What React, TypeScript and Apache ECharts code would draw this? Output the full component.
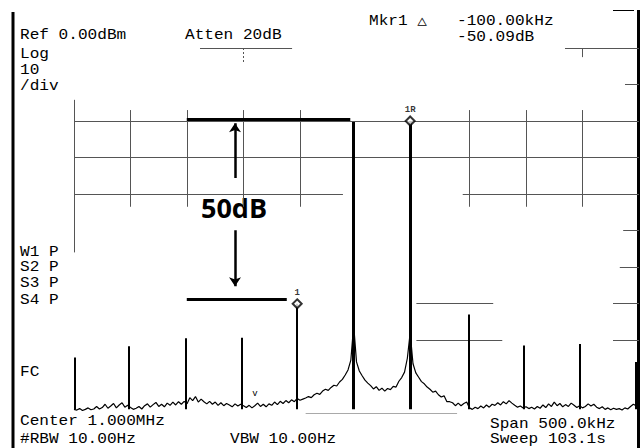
import React, { useEffect, useRef } from "react";
import * as echarts from "echarts";

// Spectrum trace (dBm), one value every 2.5 kHz from 750 kHz to 1250 kHz
const traceStartKHz = 750;
const traceStepKHz = 2.5;
const traceLevelDb = [
  -99.0, -99.2, -98.8, -99.3, -99.0, -98.6, -99.1, -98.9, -98.2, -98.9,
  -98.5, -97.6, -98.7, -98.1, -97.4, -98.6, -97.8, -97.2, -98.4, -97.9,
  -98.5, -99.0, -98.7, -98.2, -98.9, -98.0, -97.5, -98.4, -97.7, -97.1,
  -98.2, -97.6, -98.3, -97.3, -97.9, -97.0, -97.8, -96.9, -97.6, -96.8,
  -97.5, -95.8, -96.6, -95.5, -97.0, -96.2, -96.9, -97.5, -96.8, -97.6,
  -97.0, -97.9, -97.2, -98.0, -97.4, -97.8, -98.3, -97.5, -98.1, -97.6,
  -98.0, -98.5, -97.9, -98.6, -98.0, -97.3, -98.2, -97.6, -98.3, -97.5,
  -97.9, -97.0, -97.7, -96.8, -97.4, -96.6, -97.2, -96.4, -96.9, -96.0,
  -96.5, -96.2, -95.9, -95.5, -95.8, -95.0, -94.6, -94.9, -94.0, -93.5,
  -93.8, -93.0, -92.4, -92.6, -91.5, -90.8, -89.6, -88.2, -85.5, -76.0,
  -86.0, -88.5, -89.8, -91.0, -91.8, -92.5, -93.4, -92.8, -93.8, -93.2,
  -94.0, -93.3, -93.6, -92.7, -92.9, -91.3, -90.3, -88.8, -85.0, -78.0,
  -86.5, -89.0, -90.2, -91.4, -92.0, -92.9, -93.5, -94.3, -94.0, -95.0,
  -95.6, -95.3, -96.9, -96.9, -97.2, -98.0, -97.3, -98.0, -97.4, -97.0,
  -98.6, -99.0, -98.4, -98.8, -98.1, -98.6, -97.8, -98.4, -97.6, -97.9,
  -97.2, -97.8, -96.9, -97.5, -96.6, -97.3, -97.9, -98.4, -98.1, -98.6,
  -98.3, -98.8, -98.4, -98.9, -98.2, -98.7, -97.8, -98.5, -97.5, -98.2,
  -97.0, -98.0, -97.4, -98.3, -97.7, -98.2, -97.3, -97.9, -98.5, -98.0,
  -98.6, -98.2, -97.5, -98.1, -97.6, -98.4, -98.8, -98.3, -99.0, -98.6,
  -99.1, -98.7, -99.0, -98.8, -99.2, -98.6, -98.9, -98.2, -97.6, -98.0, -98.5,
];

// Discrete spectral lines (kHz, dBm)
const spurFreqKHz = [750.5, 798.5, 848.5, 898.5, 947.5, 997.5, 1047.5, 1099, 1148, 1198, 1247.5];
const spurLevelDb = [-84.8, -81.7, -79.5, -79.4, -70.09, -20.3, -20.0, -73.0, -81.5, -81.1, -86.0];
const spurBaseDb = -99;

// Markers
const markerNames = ["1R", "1"];
const markerFreqKHz = [1047.5, 947.5];
const markerLevelDb = [-20.0, -70.09];

// Visible pieces of the graticule: [f1, dB1, f2, dB2]
const graticule = [
  [750, -20, 1250, -20],
  [750, -30, 1250, -30],
  [750, -40, 988, -40],
  [1094, -40, 1250, -40],
  [750, -14.2, 750, -56],
  [800, -17, 800, -43.5],
  [850, -17, 850, -43.5],
  [900, -17, 900, -43.5],
  [950, -17, 950, -43.5],
  [1100, -17, 1100, -43.5],
  [1150, -17, 1150, -43.5],
  [1200, -17, 1200, -43.5],
  [861.5, 0, 943, 0],
  [1184.5, 0, 1250, 0],
  [1199.5, 0, 1199.5, -2.5],
  [1237.6, -10, 1250, -10],
  [1236, -50, 1250, -50],
  [1233, -60, 1250, -60],
  [1053, -70, 1121, -70],
  [1227, -70, 1250, -70],
  [1053, -80, 1129, -80],
  [1227, -80, 1250, -80],
  [955, -100, 1089, -100],
];
const graticuleDashed = [[900, 0, 900, -4]];

// 50 dB annotation
const annotBars = [
  [849.8, -19.4, 994.5, -19.4],
  [849.8, -68.8, 938.3, -68.8],
];
const annotArrows = [
  [892.5, -35.6, 892.5, -20.6],
  [892.5, -49.9, 892.5, -65.3],
];

const screenTexts = [
  { text: "Ref 0.00dBm", x: 20, y: 35 },
  { text: "Atten 20dB", x: 185, y: 35 },
  { text: "Log", x: 20, y: 54 },
  { text: "10", x: 20, y: 70 },
  { text: "/div", x: 20, y: 86 },
  { text: "Mkr1 \u25B3", x: 369, y: 21 },
  { text: "-100.00kHz", x: 457, y: 21 },
  { text: "-50.09dB", x: 457, y: 37 },
  { text: "W1 P", x: 20, y: 252 },
  { text: "S2 P", x: 20, y: 267 },
  { text: "S3 P", x: 20, y: 283 },
  { text: "S4 P", x: 20, y: 300 },
  { text: "FC", x: 20, y: 372 },
  { text: "Center 1.000MHz", x: 20, y: 421 },
  { text: "#RBW 10.00Hz", x: 20, y: 439 },
  { text: "VBW 10.00Hz", x: 230, y: 439 },
  { text: "Span 500.0kHz", x: 490, y: 424 },
  { text: "Sweep 103.1s", x: 490, y: 439 },
];

const seg = (s: number[]) => ({ coords: [[s[0], s[1]], [s[2], s[3]]] });

export default function App() {
  const ref = useRef<HTMLDivElement>(null);
  useEffect(() => {
    if (!ref.current) return;
    const chart = echarts.init(ref.current, undefined, { renderer: "svg" });
    const mono = "'Liberation Mono', 'DejaVu Sans Mono', monospace";
    const option: any = {
      animation: false,
      backgroundColor: "#ffffff",
      grid: { left: 74, top: 48, width: 565, height: 365 },
      xAxis: { type: "value", min: 750, max: 1250, show: false },
      yAxis: { type: "value", min: -100, max: 0, show: false },
      series: [
        {
          type: "lines",
          coordinateSystem: "cartesian2d",
          silent: true,
          z: 1,
          lineStyle: { color: "#555", width: 1, opacity: 1 },
          data: graticule.map(seg),
        },
        {
          type: "lines",
          coordinateSystem: "cartesian2d",
          silent: true,
          z: 1,
          lineStyle: { color: "#555", width: 1, opacity: 1, type: [2, 2] },
          data: graticuleDashed.map(seg),
        },
        {
          type: "line",
          data: traceLevelDb.map((v, i) => [traceStartKHz + i * traceStepKHz, v]),
          symbol: "none",
          silent: true,
          z: 3,
          lineStyle: { color: "#000", width: 1.2 },
        },
        {
          type: "lines",
          coordinateSystem: "cartesian2d",
          silent: true,
          z: 4,
          lineStyle: { color: "#000", width: 2, opacity: 1 },
          data: spurFreqKHz.map((f, i) => ({
            coords: [[f, spurBaseDb], [f, spurLevelDb[i]]],
            lineStyle: { width: spurLevelDb[i] > -30 ? 3 : 2 },
          })),
        },
        {
          type: "lines",
          coordinateSystem: "cartesian2d",
          silent: true,
          z: 4,
          lineStyle: { color: "#000", width: 3, opacity: 1 },
          data: annotBars.map(seg),
        },
        {
          type: "lines",
          coordinateSystem: "cartesian2d",
          silent: true,
          z: 4,
          symbol: ["none", "arrow"],
          symbolSize: 9,
          lineStyle: { color: "#000", width: 2.5, opacity: 1 },
          data: annotArrows.map(seg),
        },
        {
          type: "scatter",
          z: 6,
          silent: true,
          symbol: "diamond",
          symbolSize: [9, 9],
          itemStyle: { color: "#fff", borderColor: "#000", borderWidth: 2 },
          label: {
            show: true,
            position: "top",
            distance: 1,
            formatter: (p: any) => p.name,
            fontSize: 9,
            fontWeight: "bold",
            fontFamily: mono,
            color: "#000",
          },
          data: markerNames.map((n, i) => ({ name: n, value: [markerFreqKHz[i], markerLevelDb[i]] })),
        },
      ],
      graphic: [
        { type: "line", silent: true, shape: { x1: 13, y1: 12, x2: 13, y2: 448 }, style: { stroke: "#000", lineWidth: 3 } },
        { type: "line", silent: true, shape: { x1: 638.5, y1: 10, x2: 638.5, y2: 448 }, style: { stroke: "#000", lineWidth: 3 } },
        { type: "line", silent: true, shape: { x1: 613, y1: 10.5, x2: 634, y2: 10.5 }, style: { stroke: "#000", lineWidth: 1 } },
        ...screenTexts.map((t) => ({
          type: "text",
          silent: true,
          x: t.x,
          y: t.y,
          scaleX: 1.15,
          style: {
            text: t.text,
            fill: "#000",
            fontSize: 14,
            fontFamily: mono,
            align: "left",
            verticalAlign: "middle",
          },
        })),
        {
          type: "text",
          silent: true,
          x: 234,
          y: 207,
          style: {
            text: "50dB",
            fill: "#000",
            fontSize: 27,
            fontWeight: "bold",
            fontFamily: "'Open Sans', 'Noto Sans', sans-serif",
            align: "center",
            verticalAlign: "middle",
          },
        },
        {
          type: "text",
          silent: true,
          x: 255,
          y: 394,
          style: { text: "v", fill: "#000", fontSize: 9, fontFamily: mono, align: "center", verticalAlign: "middle" },
        },
      ],
    };
    chart.setOption(option);
    return () => chart.dispose();
  }, []);
  return (
    <div
      ref={ref}
      style={{ position: "absolute", left: 0, top: 0, width: 642, height: 448, background: "#fff" }}
    />
  );
}
